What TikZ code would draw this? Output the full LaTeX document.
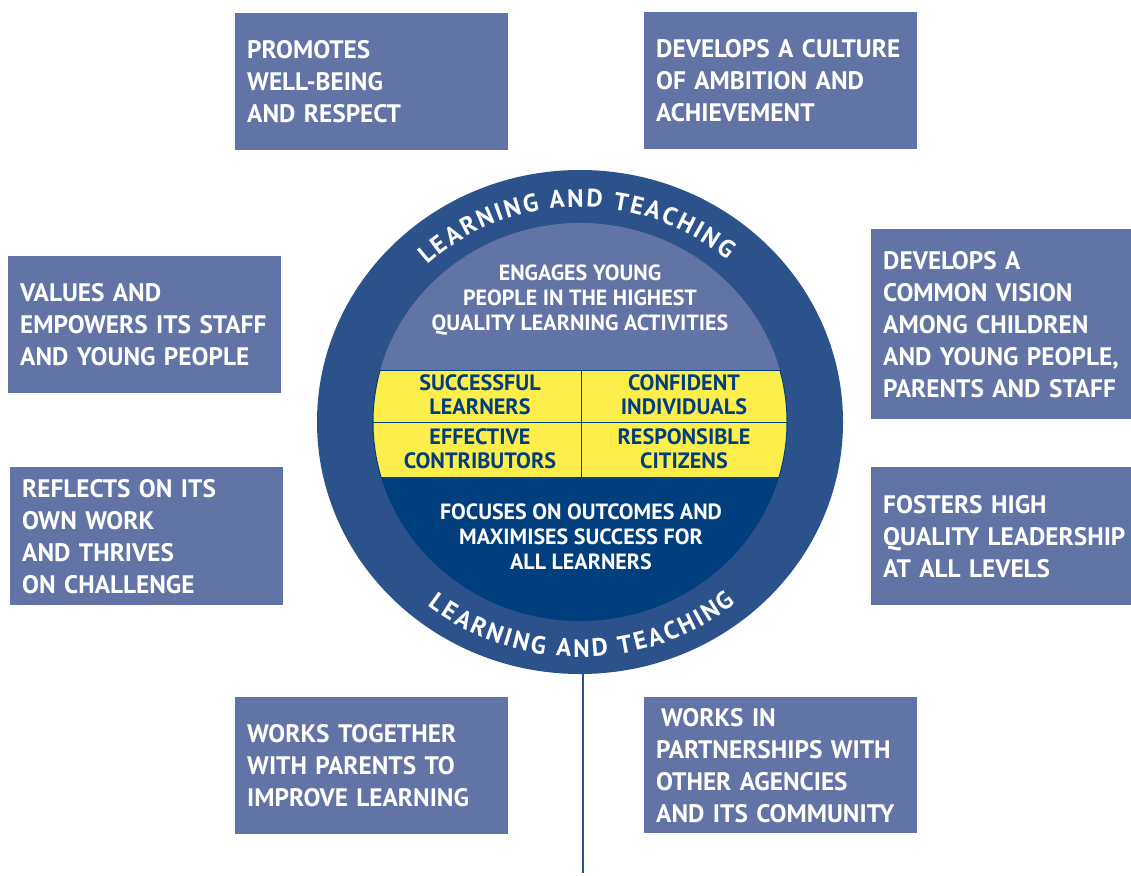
\documentclass[tikz,border=0pt]{standalone}
\usepackage{fontspec}
\usepackage{tikz}
\definecolor{white}{rgb}{1.0, 1.0, 1.0}
\definecolor{boxblue}{RGB}{98,115,165}
\definecolor{ringblue}{RGB}{44,82,140}
\definecolor{navy}{RGB}{0,62,126}
\definecolor{bandyellow}{RGB}{253,238,76}
\usetikzlibrary{calc}
\usetikzlibrary{decorations.text}
\newfontfamily\aimfont{PT Sans}
\newcommand{\arcfont}{\aimfont\bfseries\fontsize{25}{25}\selectfont}
\tikzstyle{aim}=[fill=boxblue,text=white,anchor=north west,align=left,text width=249pt,inner xsep=12pt,inner ysep=0pt,font=\aimfont\bfseries\fontsize{25.3}{32}\selectfont]
\tikzstyle{core}=[text=white,align=center,font=\aimfont\bfseries\fontsize{22}{25}\selectfont]
\tikzstyle{cell}=[text=navy,align=center,font=\aimfont\bfseries\fontsize{22.2}{24}\selectfont]
\tikzstyle{arctext}=[decorate,decoration={text along path,text={|\arcfont|LEARNING AND TEACHING},text align=fit to path,text color=white}]

\begin{document}
\begin{tikzpicture}[x=1pt,y=1pt]
        \useasboundingbox (0,0) rectangle (1131,-875);
        \coordinate (c) at (580,-422);
        \coordinate (stemtop) at (583,-660);
        \coordinate (stemend) at (583,-873);

        % stem under the wheel
        \draw [ringblue, line width=1.5pt] (stemtop) -- (stemend);

        % the wheel
        \fill [ringblue] (c) ellipse [x radius=263pt, y radius=252pt];
        \begin{scope}
            \clip (c) ellipse [x radius=207pt, y radius=199pt];
            \fill [boxblue] (370,-215) rectangle (795,-370);
            \fill [navy] (370,-477) rectangle (795,-625);
            \fill [bandyellow] (370,-370) rectangle (795,-477);
            \draw [navy, line width=1pt] (370,-370) -- (795,-370) (370,-422) -- (795,-422)
                (370,-477) -- (795,-477) (581,-370) -- (581,-477);
        \end{scope}
        \begin{scope}
            \clip (360,-370) rectangle (800,-477);
            \draw [navy, line width=1pt] (c) ellipse [x radius=207pt, y radius=199pt];
        \end{scope}
        \path [arctext] ($(c)+(133:224pt and 215pt)$) arc [start angle=133, end angle=49, x radius=224pt, y radius=215pt];
        \path [arctext] ($(c)+(231.5:245pt and 235pt)$) arc [start angle=231.5, end angle=309.5, x radius=245pt, y radius=235pt];

        \node [core] (engage) at (580,-300) {ENGAGES YOUNG\\PEOPLE IN THE HIGHEST\\QUALITY LEARNING ACTIVITIES};
        \node [cell] (learners) at (480,-395) {SUCCESSFUL\\LEARNERS};
        \node [cell] (individuals) at (684,-395) {CONFIDENT\\INDIVIDUALS};
        \node [cell] (contributors) at (480,-449) {EFFECTIVE\\CONTRIBUTORS};
        \node [cell] (citizens) at (684,-449) {RESPONSIBLE\\CITIZENS};
        \node [core] (outcomes) at (581,-537) {FOCUSES ON OUTCOMES AND\\MAXIMISES SUCCESS FOR\\ALL LEARNERS};

        % the eight boxes
        \node [aim, minimum height=137pt] (wellbeing) at (235,-13) {PROMOTES\\WELL-BEING\\AND RESPECT};
        \node [aim, minimum height=137pt] (ambition) at (644,-12) {DEVELOPS A CULTURE\\OF AMBITION AND\\ACHIEVEMENT};
        \node [aim, minimum height=137pt] (staff) at (8,-256) {VALUES AND\\EMPOWERS ITS STAFF\\AND YOUNG PEOPLE};
        \node [aim, minimum height=190pt] (vision) at (871,-229) {DEVELOPS A\\COMMON VISION\\AMONG CHILDREN\\AND YOUNG PEOPLE,\\PARENTS AND STAFF};
        \node [aim, minimum height=138pt] (reflects) at (10,-467) {REFLECTS ON ITS\\OWN WORK\\AND THRIVES\\ON CHALLENGE};
        \node [aim, minimum height=138pt] (leadership) at (871,-467) {FOSTERS HIGH\\QUALITY LEADERSHIP\\AT ALL LEVELS};
        \node [aim, minimum height=137pt] (parents) at (235,-697) {WORKS TOGETHER\\WITH PARENTS TO\\IMPROVE LEARNING};
        \node [aim, minimum height=136pt] (partners) at (644,-697) {\hspace*{5pt}WORKS IN\\PARTNERSHIPS WITH\\OTHER AGENCIES\\AND ITS COMMUNITY};
\end{tikzpicture}
\end{document}
